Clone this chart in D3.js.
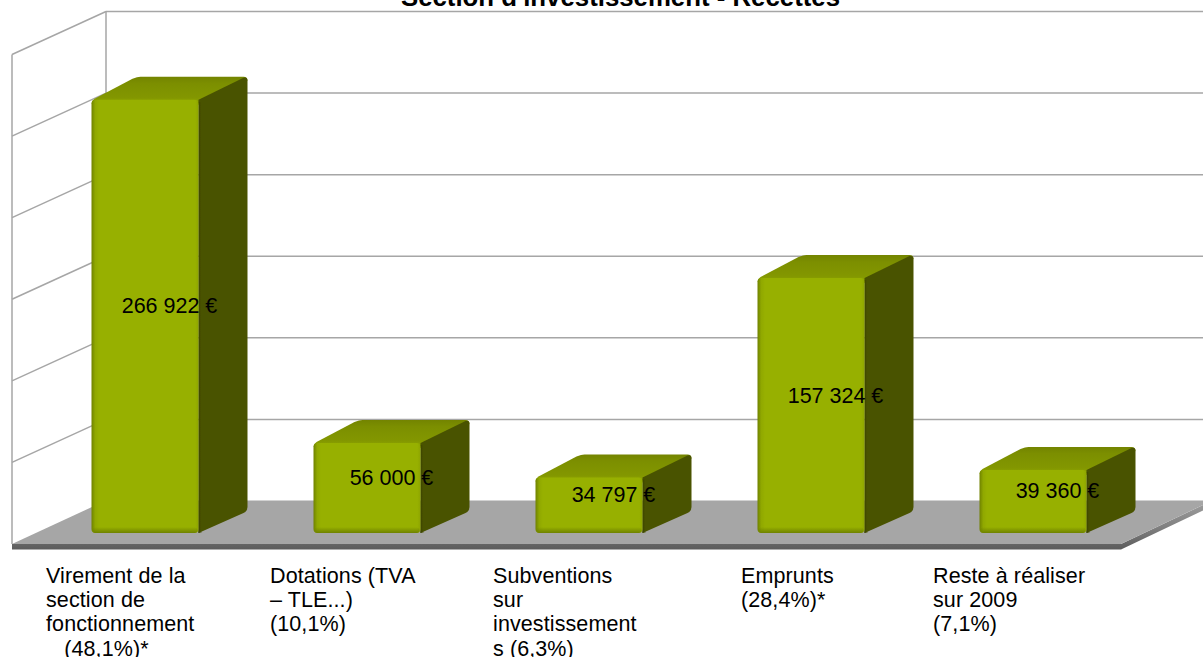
<!DOCTYPE html>
<html><head><meta charset="utf-8">
<script src="https://cdn.jsdelivr.net/npm/d3@7"></script>
<style>html,body{margin:0;padding:0;background:#fff;overflow:hidden}svg{display:block}text{font-family:"Liberation Sans",sans-serif;fill:#000}</style>
</head><body><div id="c"></div>
<script>
const categories=["Virement","Dotations","Subventions","Emprunts","Reste"];
const values=[266922,56000,34797,157324,39360];
const valueLabels=["266 922 €","56 000 €","34 797 €","157 324 €","39 360 €"];
const categoryLines=[["Virement de la","section de","fonctionnement","   (48,1%)*"],["Dotations (TVA","– TLE...)","(10,1%)"],["Subventions","sur","investissement","s (6,3%)"],["Emprunts","(28,4%)*"],["Reste à réaliser","sur 2009","(7,1%)"]];
const labelX=[46,270,493,741,933];
const gridTicks=[0,50000,100000,150000,200000,250000,300000];
const title="Section d'investissement - Recettes";

const W=1203,H=657;
const svg=d3.select("#c").append("svg").attr("width",W).attr("height",H);
const defs=svg.append("defs");
const grad=(id,x2,y2,stops)=>{const g=defs.append("linearGradient").attr("id",id).attr("x1",0).attr("y1",0).attr("x2",x2).attr("y2",y2);
 stops.forEach(s=>{const st=g.append("stop").attr("offset",s[0]).attr("stop-color",s[1]);if(s[2]!==undefined)st.attr("stop-opacity",s[2]);});};
grad("edge",0,1,[[0,"#9a9a9a"],[0.5,"#808080"],[1,"#5c5c5c"]]);
grad("top",0,1,[[0,"#738400"],[0.25,"#7c8f00"],[0.75,"#839700"],[1,"#93ab00"]]);
grad("frontH",1,0,[[0,"#6f8200"],[0.035,"#90a800"],[0.07,"#97b000"],[0.97,"#97b000"],[1,"#8ea500"]]);
grad("bottomShade",0,1,[[0,"#6f8200",0],[1,"#6f8200",1]]);
grad("sideL",1,0,[[0,"#3a4200",1],[1,"#4a5300",0]]);
const blur=defs.append("filter").attr("id","soft").attr("x","-5%").attr("y","-5%").attr("width","110%").attr("height","110%");
blur.append("feGaussianBlur").attr("stdDeviation",0.6);

const depthX=94, depthY=43, backY0=501, gridStep=489.5;
const y=d3.scaleLinear().domain([0,300000]).range([backY0,backY0-gridStep]);
const wallLeft=12, wallBack=wallLeft+depthX;
const gridStroke="#a6a6a6", gridW=1.5;

const floorFrontY=backY0+depthY, floorRight=1121;
svg.append("path").attr("d",`M${wallLeft},${floorFrontY}L${wallLeft},${floorFrontY+5.5}L${floorRight},${floorFrontY+5.5}L${W},${floorFrontY+5.5-39}L${W},${floorFrontY-39}L${floorRight},${floorFrontY}Z`).attr("fill","url(#edge)");
svg.append("path").attr("d",`M${wallLeft},${floorFrontY}L${wallBack},${backY0-0.5}L${W},${backY0-0.5}L${W},${floorFrontY-39}L${floorRight},${floorFrontY}Z`).attr("fill","#a6a6a6");

svg.append("g").selectAll("line").data(gridTicks.slice(1)).join("line").attr("x1",wallBack).attr("x2",W)
 .attr("y1",d=>y(d)).attr("y2",d=>y(d)).attr("stroke",gridStroke).attr("stroke-width",gridW);
svg.append("g").selectAll("line").data(gridTicks.slice(1)).join("line").attr("x1",wallLeft).attr("x2",wallBack)
 .attr("y1",d=>y(d)+depthY).attr("y2",d=>y(d)).attr("stroke",gridStroke).attr("stroke-width",gridW);
svg.append("line").attr("x1",wallBack).attr("x2",wallBack).attr("y1",y(300000)).attr("y2",backY0).attr("stroke",gridStroke).attr("stroke-width",gridW);
svg.append("line").attr("x1",wallLeft).attr("x2",wallLeft).attr("y1",y(300000)+depthY).attr("y2",floorFrontY).attr("stroke",gridStroke).attr("stroke-width",gridW);

const x=d3.scaleBand().domain(categories).range([34,1144]).paddingInner(0.518).paddingOuter(0.259);
const barH=d3.scaleLinear().domain([0,300000]).range([0,488]);
const baseY=533, dx=49, dy=22;
const bars=svg.append("g").selectAll("g").data(categories.map((c,i)=>({c,v:values[i],l:valueLabels[i]}))).join("g");
bars.each(function(d,i){
 const g=d3.select(this),x0=x(d.c),bw=x.bandwidth(),x1=x0+bw,t=baseY-barH(d.v),h=barH(d.v);
 const s=g.append("g").attr("filter","url(#soft)");
 s.append("path").attr("d",`M${x0},${t+5}Q${x0},${t+2} ${x0+3},${t}L${x0+dx-8},${t-dy+2}Q${x0+dx-3},${t-dy} ${x0+dx},${t-dy}L${x1+dx-4},${t-dy}Q${x1+dx},${t-dy} ${x1+dx},${t-dy+4}L${x1},${t+6}Z`).attr("fill","url(#top)");
 s.append("path").attr("d",`M${x1},${t+1}L${x1+dx-4},${t-dy+1}Q${x1+dx},${t-dy} ${x1+dx},${t-dy+4}L${x1+dx},${baseY-dy-4}Q${x1+dx},${baseY-dy} ${x1+dx-4},${baseY-dy+2}L${x1},${baseY}Z`).attr("fill","#4a5300");
 s.append("rect").attr("x",x1).attr("y",t+3).attr("width",4).attr("height",h-3).attr("fill","url(#sideL)");
 s.append("rect").attr("x",x0).attr("y",t+1).attr("width",bw).attr("height",h-1).attr("rx",4).attr("fill","url(#frontH)");
 s.append("rect").attr("x",x0+1).attr("y",baseY-6).attr("width",bw-2).attr("height",6).attr("rx",3).attr("fill","url(#bottomShade)");
});
bars.append("text").attr("x",d=>x(d.c)+x.bandwidth()/2+24.5).attr("y",d=>baseY-barH(d.v)/2-2.5).attr("text-anchor","middle")
 .attr("font-size",21.5).text(d=>d.l);

svg.append("g").selectAll("text").data(categoryLines).join("text")
 .attr("font-size",21.5).attr("letter-spacing",0.1).attr("xml:space","preserve")
 .each(function(lines,i){d3.select(this).selectAll("tspan").data(lines).join("tspan")
   .attr("x",labelX[i]).attr("y",(l,j)=>583+j*24.2).text(l=>l).style("white-space","pre");});

svg.append("text").attr("x",620.5).attr("y",6).attr("text-anchor","middle").attr("font-size",25.8).attr("font-weight","bold").text(title);
</script></body></html>
